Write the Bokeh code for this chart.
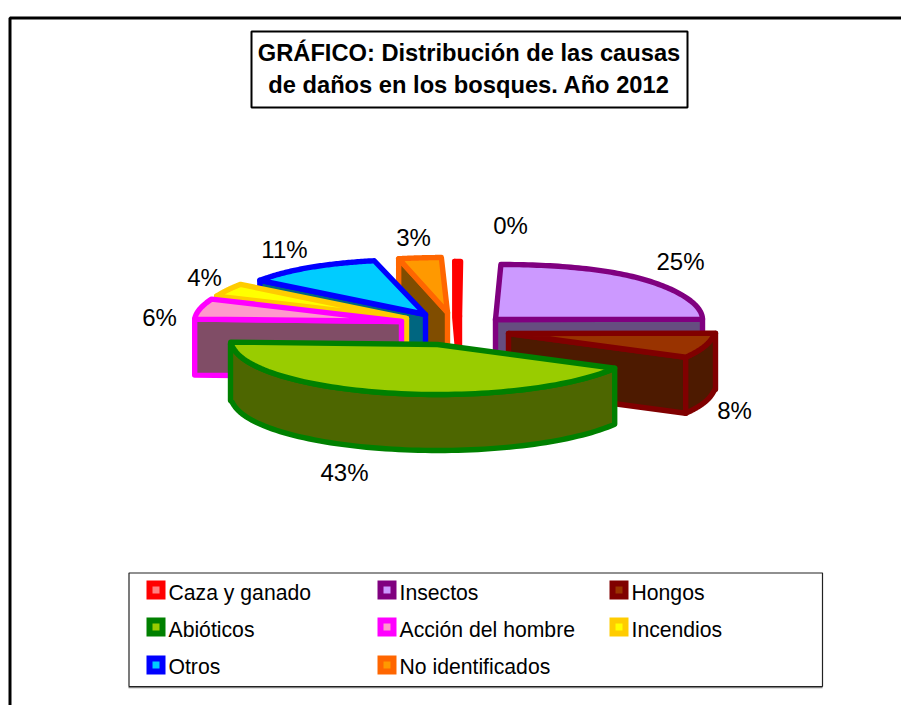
import numpy as np
from bokeh.plotting import figure
from bokeh.models import Range1d
from bokeh.core.properties import value
from bokeh.embed import file_html
from bokeh.resources import INLINE

# ---- data ----
categories = ["Caza y ganado", "Insectos", "Hongos", "Abióticos",
              "Acción del hombre", "Incendios", "Otros", "No identificados"]
shares = [0.4, 25.0, 8.0, 43.0, 6.0, 4.0, 11.0, 3.0]
title_lines = ["GRÁFICO: Distribución de las causas",
               "de daños en los bosques. Año 2012"]

# ---- styles ----
edge_colors = ["#FF0000", "#800080", "#800000", "#008000", "#FF00FF", "#FFCC00", "#0000FF", "#FF6600"]
top_colors = ["#FF8080", "#CC99FF", "#993300", "#99CC00", "#FF99CC", "#FFFF00", "#00CCFF", "#FF9900"]
side_colors = ["#804040", "#664D80", "#4D1A00", "#4D6600", "#804D66", "#808000", "#006680", "#804D00"]

# ---- pie layout (page pixels) ----
RX, RY_FRONT, RY_BACK, DEPTH, SKEW, SKEW_CX, FRONT_NARROW = 207.0, 50.0, 55.0, 56.0, 0.12, 450.0, 0.04
explode_tip_x = [459, 495, 508, 437, 401, 406, 425, 447]
explode_tip_y = [316, 319, 333, 344, 321, 318, 314, 312]
paint_order = [7, 0, 6, 5, 4, 1, 2, 3]
label_x = [510, 680, 734, 344, 159, 204, 284, 413]
label_y = [225, 261, 410, 472, 317, 277, 249, 237]
legend_col_x = [146, 377, 609]
legend_row_y = [580, 617, 655]
legend_text_drop = [11.5, 11.5, 11]
SW = 19

p = figure(width=901, height=705, output_backend="svg", toolbar_location=None,
           x_range=Range1d(0, 901), y_range=Range1d(705, 0),
           x_axis_type=None, y_axis_type=None, min_border=0)
p.grid.visible = False
p.outline_line_color = None
p.background_fill_color = "#FFFFFF"

FONT = value("Liberation Sans")

# outer frame
p.line([9.5, 9.5, 901], [705, 17.5, 17.5], line_color="#000000", line_width=3)


def rim_point(i, theta):
    theta = np.asarray(theta, dtype=float)
    c = np.cos(theta)
    back = np.clip(c, 0, 1)      # 0..1 towards the far side of the ellipse
    front = np.clip(-c, 0, 1)    # 0..1 towards the near side
    dx = RX * np.sin(theta) * (1 - FRONT_NARROW * np.sqrt(front))
    dy = -(RY_BACK * back - RY_FRONT * front)
    x = explode_tip_x[i] + dx
    x = x + SKEW * (x - SKEW_CX) * back ** 4
    return x, explode_tip_y[i] + dy


total = sum(shares)
ang = np.radians(360 * np.array(shares) / total)
starts = np.concatenate([[0.0], np.cumsum(ang)[:-1]]) - ang[0]  # Insectos starts at 12 o'clock


def draw_face(xs, ys, fill, edge):
    p.patch(list(xs), list(ys), fill_color=fill, line_color=edge, line_width=5.4, line_join="round")


for i in paint_order:
    a, b = starts[i], starts[i] + ang[i]
    tx, ty = explode_tip_x[i], explode_tip_y[i]
    edge, top, side = edge_colors[i], top_colors[i], side_colors[i]
    # visible cut faces
    for th, visible in ((a, np.sin(a) < -1e-6), (b, np.sin(b) > 1e-6)):
        if visible:
            x, y = rim_point(i, th)
            draw_face([tx, float(x), float(x), tx], [ty, float(y), float(y) + DEPTH, ty + DEPTH], side, edge)
    # visible outer wall (front half of the ellipse only)
    lo, hi = max(a, np.pi / 2), min(b, 3 * np.pi / 2)
    if hi > lo:
        t = np.linspace(lo, hi, 80)
        x, y = rim_point(i, t)
        draw_face(np.r_[x, x[::-1]], np.r_[y, y[::-1] + DEPTH], side, edge)
    # top face
    t = np.linspace(a, b, 80)
    x, y = rim_point(i, t)
    draw_face(np.r_[tx, x], np.r_[ty, y], top, edge)

# percentage labels
pct_labels = [f"{round(v / total * 100)}%" for v in shares]
p.text(label_x, label_y, text=pct_labels, text_font=FONT, text_font_size="24px",
       text_align="center", text_baseline="middle", text_color="#000000")

# title box
p.quad(left=[251], right=[687], top=[31], bottom=[107], fill_color="#FFFFFF",
       line_color="#000000", line_width=2)
p.text([468.5, 468.5], [52, 84.5], text=title_lines, text_font=FONT, text_font_size="23.7px",
       text_font_style="bold", text_align="center", text_baseline="middle", text_color="#000000")

# legend
p.line([128, 822], [687, 687], line_color="#808080", line_width=1.5)
p.quad(left=[128.5], right=[822], top=[572.5], bottom=[686], fill_color="#FFFFFF",
       line_color="#222222", line_width=1.2)
for k, name in enumerate(categories):
    cx = legend_col_x[k % 3]
    cy = legend_row_y[k // 3]
    p.quad(left=[cx], right=[cx + SW], top=[cy], bottom=[cy + SW], fill_color=edge_colors[k], line_color=None)
    p.quad(left=[cx + 6], right=[cx + 13], top=[cy + 6], bottom=[cy + 13], fill_color=top_colors[k], line_color=None)
    p.text([cx + 22], [cy + legend_text_drop[k // 3]], text=[name], text_font=FONT, text_font_size="21.2px",
           text_align="left", text_baseline="middle", text_color="#000000")

open("out.html", "w").write(file_html(p, INLINE))
